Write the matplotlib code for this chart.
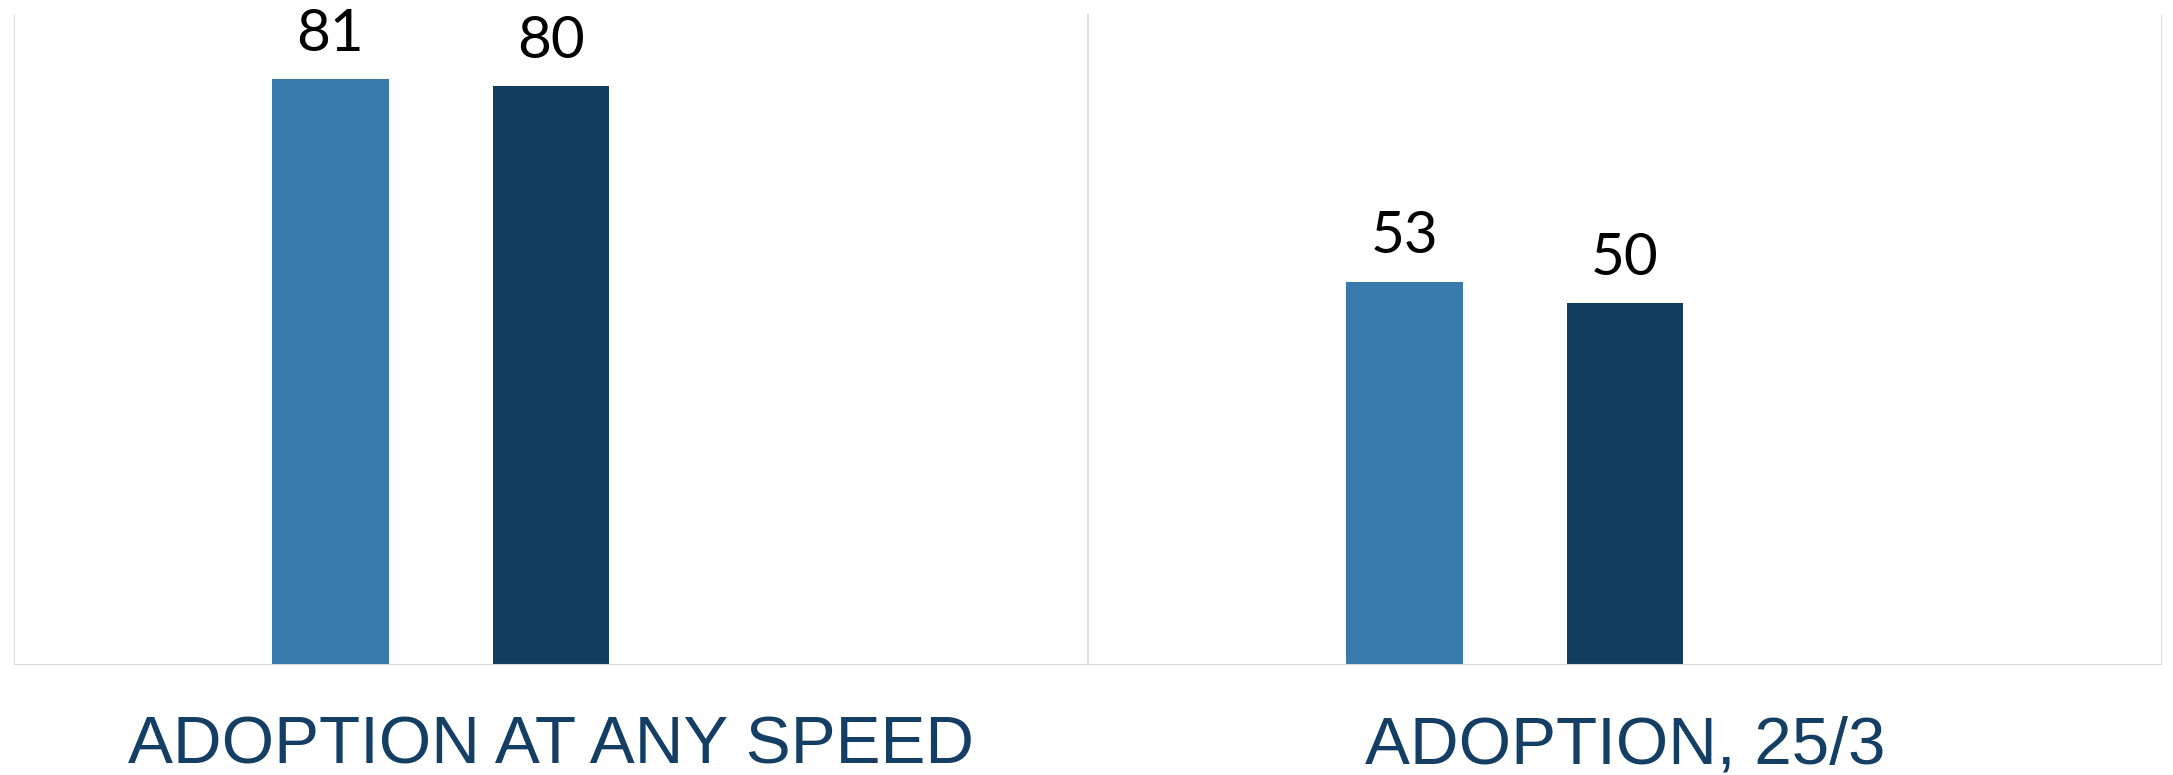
import matplotlib
matplotlib.use("Agg")
import matplotlib.pyplot as plt
import matplotlib.transforms as mtransforms
import numpy as np

categories = ["ADOPTION AT ANY SPEED", "ADOPTION, 25/3"]
series_a = [81, 53]
series_b = [80, 50]
colors = ["#377AAB", "#123D61"]

W, H = 2173, 775
fig = plt.figure(figsize=(W / 100, H / 100), dpi=100)
ax = fig.add_axes([14 / W, (H - 665) / H, (2162 - 14) / W, (665 - 14) / H])

x = np.arange(len(categories))
step = 0.2055
width = 0.1085
for off, vals, col in [(-step, series_a, colors[0]), (0.0, series_b, colors[1])]:
    ax.bar(x + off, vals, width=width, color=col, zorder=2)
    for xi, v in zip(x + off, vals):
        ax.text(xi, v + 3.9, f"{v}", ha="center", va="baseline",
                fontsize=42, family=["Lato", "DejaVu Sans"], color="black")

ax.set_xlim(-0.5, len(categories) - 0.5)
ax.set_ylim(0, 90)
for s in ax.spines.values():
    s.set_visible(False)
ax.set_xticks([])
ax.set_yticks([])
for xv in np.arange(-0.5, len(categories), 1.0):
    ax.axvline(xv, color="#D9D9D9", lw=1.2, zorder=1)
ax.axhline(0, color="#D9D9D9", lw=2.2, zorder=3)

trans = mtransforms.blended_transform_factory(ax.transData, fig.transFigure)
for xi, cat in zip(x, categories):
    ax.text(xi, 1 - 764 / H, cat, transform=trans, ha="center", va="baseline",
            fontsize=48.5, family=["Liberation Sans", "DejaVu Sans"],
            color="#143E63")

fig.savefig("out.png", dpi=100, facecolor="white")
